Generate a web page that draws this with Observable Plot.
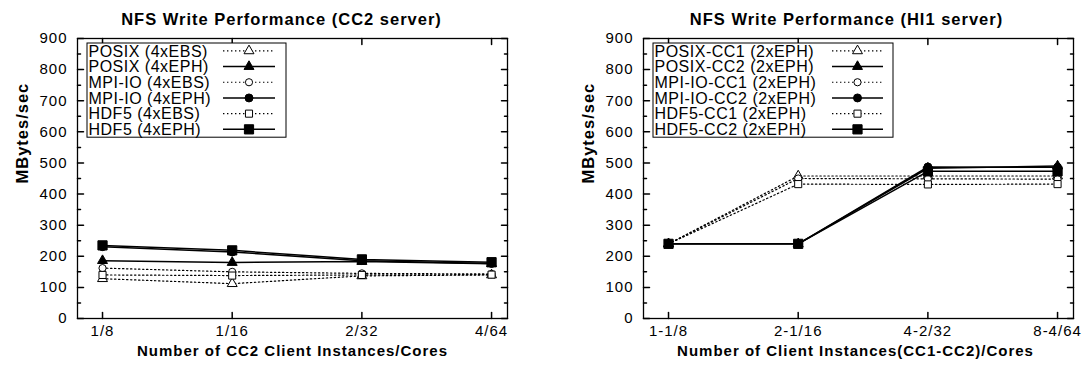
<!DOCTYPE html>
<html><head><meta charset="utf-8">
<script src="https://cdn.jsdelivr.net/npm/d3@7"></script>
<script src="https://cdn.jsdelivr.net/npm/@observablehq/plot@0.6"></script>
<style>
body{margin:0;background:#fff;}
#wrap{position:relative;width:1089px;height:378px;overflow:hidden;background:#fff;}
#wrap svg{position:absolute;top:0;}
#wrap svg text{letter-spacing:1px;}
</style></head><body><div id="wrap"></div>
<script>
// ---- Data ----
const yTicks = [0,100,200,300,400,500,600,700,800,900];

const leftTitle = "NFS Write Performance (CC2 server)";
const leftXTitle = "Number of CC2 Client Instances/Cores";
const leftXLabels = ["1/8","1/16","2/32","4/64"];
const leftNames = ["POSIX (4xEBS)","POSIX (4xEPH)","MPI-IO (4xEBS)","MPI-IO (4xEPH)","HDF5 (4xEBS)","HDF5 (4xEPH)"];
const posixEbs = [128, 112, 137, 140];
const posixEph = [186, 180, 183, 176];
const mpiEbs   = [162, 150, 145, 143];
const mpiEph   = [231, 214, 186, 177];
const hdf5Ebs  = [140, 138, 140, 141];
const hdf5Eph  = [235, 219, 190, 181];

const rightTitle = "NFS Write Performance (HI1 server)";
const rightXTitle = "Number of Client Instances(CC1-CC2)/Cores";
const rightXLabels = ["1-1/8","2-1/16","4-2/32","8-4/64"];
const rightNames = ["POSIX-CC1 (2xEPH)","POSIX-CC2 (2xEPH)","MPI-IO-CC1 (2xEPH)","MPI-IO-CC2 (2xEPH)","HDF5-CC1 (2xEPH)","HDF5-CC2 (2xEPH)"];
const posixCC1 = [240, 458, 458, 458];
const posixCC2 = [240, 240, 483, 490];
const mpiCC1   = [240, 450, 449, 448];
const mpiCC2   = [240, 240, 487, 486];
const hdf5CC1  = [240, 432, 431, 432];
const hdf5CC2  = [240, 240, 473, 473];

const yLabel = "MBytes/sec";

// ---- Styles (per series index) ----
const symbols = ["triangle","triangle","circle","circle","square","square"];
const filled  = [false,true,false,true,false,true];
const radii   = [3.7,3.7,3.6,4,4,5.2];
const symMap = {triangle: d3.symbolTriangle, circle: d3.symbolCircle, square: d3.symbolSquare};

function makeRows(names, arrays){
  const rows = [];
  names.forEach((n,s)=>arrays[s].forEach((v,i)=>rows.push({s, name:n, i, v})));
  return rows;
}

const tickShape = {draw(ctx, l){ ctx.moveTo(0,0); ctx.lineTo(0,-l); }};

function panel({title, xTitle, xLabels, names, arrays, left, width, marginLeft, marginRight, titleDx, xTitleDx, legend}){
  const rows = makeRows(names, arrays);
  const idx = d3.range(xLabels.length);
  const minor = d3.range(50, 900, 100);
  const marks = [];
  names.forEach((n,s)=>{
    marks.push(Plot.line(rows.filter(d=>d.s===s), {x:"i", y:"v", stroke:"black",
      strokeWidth: filled[s] ? 1.5 : 1.2, strokeDasharray: filled[s] ? null : "1.4,2.6"}));
  });
  names.forEach((n,s)=>{
    marks.push(Plot.dot(rows.filter(d=>d.s===s), {x:"i", y:"v", symbol: symbols[s], r: radii[s],
      fill: filled[s] ? "black" : "white", stroke:"black", strokeWidth:1}));
  });
  // ticks (inward, mirrored)
  marks.push(
    Plot.vector(idx, {x: d=>d, frameAnchor:"bottom", length:6, rotate:0, anchor:"start", shape: tickShape, stroke:"black"}),
    Plot.vector(idx, {x: d=>d, frameAnchor:"top", length:6, rotate:180, anchor:"start", shape: tickShape, stroke:"black"}),
    Plot.vector(yTicks, {y: d=>d, frameAnchor:"left", length:6, rotate:90, anchor:"start", shape: tickShape, stroke:"black"}),
    Plot.vector(yTicks, {y: d=>d, frameAnchor:"right", length:6, rotate:-90, anchor:"start", shape: tickShape, stroke:"black"}),
    Plot.vector(minor, {y: d=>d, frameAnchor:"left", length:3, rotate:90, anchor:"start", shape: tickShape, stroke:"black"}),
    Plot.vector(minor, {y: d=>d, frameAnchor:"right", length:3, rotate:-90, anchor:"start", shape: tickShape, stroke:"black"}),
    Plot.frame({stroke:"black", strokeWidth:1.3}),
    Plot.axisX(idx, {tickSize:0, tickPadding:7, tickFormat: i=>xLabels[i], fontSize:15, label:null}),
    Plot.axisY(yTicks, {tickSize:0, tickPadding:10, fontSize:15, label:null}),
    Plot.text([title], {frameAnchor:"top", dy:-25, dx:titleDx, fontWeight:"bold", fontSize:16.5}),
    Plot.text([xTitle], {frameAnchor:"bottom", dy:37, dx:xTitleDx, fontWeight:"bold", fontSize:15}),
    Plot.text([yLabel], {frameAnchor:"left", dx:-55, dy:5, rotate:-90, fontWeight:"bold", fontSize:16.5})
  );
  const svg = Plot.plot({
    width, height: 378, marginLeft, marginRight, marginTop: 38, marginBottom: 60,
    x: {domain: [-0.193, 3.123]},
    y: {domain: [0, 900]},
    style: {fontFamily: "'Liberation Sans', Arial, sans-serif", fontSize: "15px", color: "black", background: "white", overflow: "visible"},
    marks
  });
  svg.style.left = left + "px";
  // legend
  const g = d3.select(svg).append("g").attr("class","legend").attr("text-anchor","start");
  const {x0, y0, w, rowH, lx1, lx2} = legend;
  g.append("rect").attr("x", x0).attr("y", y0).attr("width", w).attr("height", rowH*names.length)
    .attr("fill","white").attr("stroke","black").attr("stroke-width",1);
  names.forEach((n,s)=>{
    const cy = y0 + rowH*(s+0.5);
    g.append("text").attr("x", x0+1.5).attr("y", cy).attr("dy","0.36em").attr("text-anchor","start")
      .attr("font-size", 16).attr("fill","black").style("letter-spacing","0.5px").text(n);
    g.append("line").attr("x1", lx1).attr("x2", lx2).attr("y1", cy).attr("y2", cy)
      .attr("stroke","black").attr("stroke-width", filled[s] ? 1.5 : 1.2)
      .attr("stroke-dasharray", filled[s] ? null : "1.4,2.6");
    g.append("path").attr("d", d3.symbol(symMap[symbols[s]], Math.PI*radii[s]*radii[s])())
      .attr("transform", `translate(${(lx1+lx2)/2},${cy})`)
      .attr("fill", filled[s] ? "black" : "white").attr("stroke","black");
  });
  return svg;
}

const wrap = document.getElementById("wrap");
wrap.appendChild(panel({
  title: leftTitle, xTitle: leftXTitle, xLabels: leftXLabels, names: leftNames,
  arrays: [posixEbs, posixEph, mpiEbs, mpiEph, hdf5Ebs, hdf5Eph],
  left: 0, width: 544, marginLeft: 77, marginRight: 37, titleDx: -11, xTitleDx: 0,
  legend: {x0: 87, y0: 43, w: 199, rowH: 15.7, lx1: 223, lx2: 275}
}));
wrap.appendChild(panel({
  title: rightTitle, xTitle: rightXTitle, xLabels: rightXLabels, names: rightNames,
  arrays: [posixCC1, posixCC2, mpiCC1, mpiCC2, hdf5CC1, hdf5CC2],
  left: 544, width: 545, marginLeft: 99, marginRight: 16, titleDx: -12, xTitleDx: -3,
  legend: {x0: 109, y0: 43, w: 240, rowH: 15.7, lx1: 288, lx2: 339}
}));
</script></body></html>
